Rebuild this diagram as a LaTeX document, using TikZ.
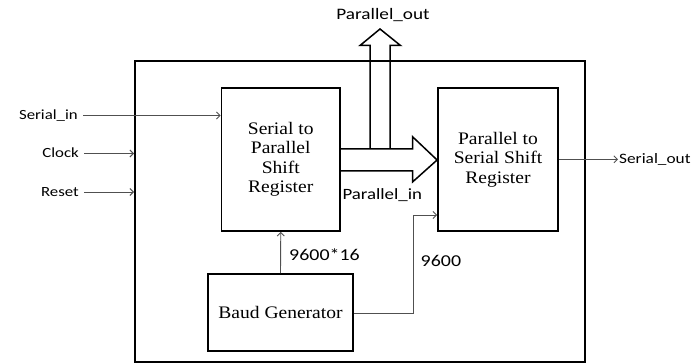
\documentclass[tikz,border=0pt]{standalone}
\usepackage{fontspec}
\setmainfont{Liberation Serif}
\newfontfamily\labfont[FakeStretch=1.2]{Carlito}
\newfontfamily\boxfont[FakeStretch=1.11]{Liberation Serif}
\usetikzlibrary{arrows.meta}
\definecolor{conn}{HTML}{505050}
\begin{document}
\begin{tikzpicture}[x=1pt,y=-1pt,
  blk/.style={draw=black,line width=1.8pt,rectangle,inner sep=0pt,align=center,
    font=\boxfont\fontsize{17.6}{19.5}\selectfont},
  lab/.style={inner ysep=0pt,inner xsep=5pt,text height=9pt,text depth=0pt},
  wire/.style={draw=conn,line width=0.9pt,-{Straight Barb[length=3.5pt,width=7pt]}},
  fat/.style={draw=black,line width=1.5pt,line join=miter}]
\useasboundingbox (0,0) rectangle (692,363);
% outer system box
\node[draw=black,line width=2pt,minimum width=450pt,minimum height=300pt,inner sep=0pt] (sys) at (360,211.5) {};
% blocks
\node[blk,minimum width=118.5pt,minimum height=143pt] (sp) at (280.75,159.5) {Serial to\\Parallel\\Shift\\Register};
\node[blk,minimum width=120pt,minimum height=143pt] (ps) at (498,159.5) {Parallel to\\Serial Shift\\Register};
\node[blk,minimum width=145pt,minimum height=77pt] (baud) at (280.5,312.5) {Baud Generator};
% input labels
\node[lab,anchor=east,font=\labfont\fontsize{14}{16}\selectfont] (serin) at (83,115.5) {Serial\_in};
\node[lab,anchor=east,font=\labfont\fontsize{14}{16}\selectfont] (clk) at (84,153.5) {Clock};
\node[lab,anchor=east,font=\labfont\fontsize{14}{16}\selectfont] (rst) at (84,192) {Reset};
\draw[wire] (serin.east) -- (serin.east -| sp.west);
\draw[wire] (clk.east) -- (clk.east -| sys.west);
\draw[wire] (rst.east) -- (rst.east -| sys.west);
% output
\node[lab,anchor=west,inner xsep=1pt,font=\labfont\fontsize{14.4}{16}\selectfont] (serout) at (618,159.3) {Serial\_out};
\draw[wire] (ps.east |- serout.west) -- (serout.west);
% baud connections
\draw[wire] (baud.north) -- (sp.south);
\coordinate (bend) at (413.5,313);
\draw[wire] (baud.east |- bend) -- (bend) -- (bend |- 0,215) -- (ps.west |- 0,215);
\node[anchor=base west,inner sep=0pt,font=\labfont\fontsize{16.6}{18}\selectfont] (l16) at (289,260.5) {9600*16};
\node[anchor=base west,inner sep=0pt,font=\labfont\fontsize{16.6}{18}\selectfont] (l96) at (420.5,266) {9600};
% fat Parallel_in arrow
\draw[fat] (sp.east |- 0,149) -- (412.5,149) -- (412.5,136.7) -- (ps.west |- 0,160) -- (412.5,182) -- (412.5,171) -- (sp.east |- 0,171);
% Parallel_out arrow
\draw[fat] (370,149) -- (370,45.5) -- (360,45.5) -- (380,29) -- (400.5,45.5) -- (390,45.5) -- (390,149);
\node[anchor=base,inner sep=0pt,font=\labfont\fontsize{16}{18}\selectfont] (pout) at (383,20) {Parallel\_out};
\node[anchor=base west,inner sep=0pt,font=\labfont\fontsize{15.7}{18}\selectfont] (pin) at (342.3,199.5) {Parallel\_in};
\end{tikzpicture}
\end{document}
